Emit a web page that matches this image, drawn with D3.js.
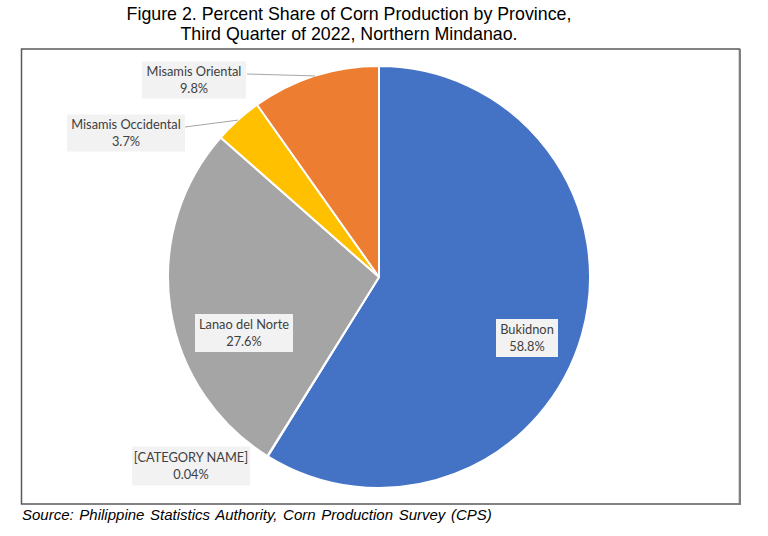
<!DOCTYPE html>
<html>
<head>
<meta charset="utf-8">
<script src="https://cdn.jsdelivr.net/npm/d3@7"></script>
<style>
  html, body { margin: 0; padding: 0; background: #fff; }
  svg { display: block; }
</style>
</head>
<body>
<svg id="chart" width="768" height="536"></svg>
<script>
// ---- data ----
const categories = ["Bukidnon", "[CATEGORY NAME]", "Lanao del Norte", "Misamis Occidental", "Misamis Oriental"];
const shares = [58.8, 0.04, 27.6, 3.7, 9.8];
const valueLabels = ["58.8%", "0.04%", "27.6%", "3.7%", "9.8%"];
const colors = ["#4472C4", "#ED7D31", "#A5A5A5", "#FFC000", "#ED7D31"];
const titleLines = ["Figure 2. Percent Share of Corn Production by Province,", "Third Quarter of 2022, Northern Mindanao."];
const sourceText = "Source: Philippine Statistics Authority, Corn Production Survey (CPS)";

// ---- layout (label box centers, sizes, leader flags) ----
const labelLayout = {
  "Bukidnon":            { cx: 527, cy: 338, w: 62,  h: 38, leader: false },
  "[CATEGORY NAME]":     { cx: 191, cy: 466, w: 118, h: 39, leader: false },
  "Lanao del Norte":     { cx: 244, cy: 333, w: 98,  h: 38, leader: false },
  "Misamis Occidental":  { cx: 126, cy: 133, w: 118, h: 37, leader: true, lx: 185, ly: 127 },
  "Misamis Oriental":    { cx: 194, cy: 80,  w: 104, h: 37, leader: true, lx: 247, ly: 74 }
};

const svg = d3.select("#chart");
const cx = 379, cy = 277, R = 211;

// title
svg.append("g").selectAll("text").data(titleLines).join("text")
  .attr("x", 349).attr("y", (d, i) => 20 + i * 20)
  .attr("text-anchor", "middle")
  .attr("font-family", "Liberation Sans, Arial, sans-serif")
  .attr("font-size", 17.8)
  .attr("fill", "#000")
  .text(d => d);

// frame
svg.append("rect")
  .attr("x", 21.5).attr("y", 49).attr("width", 718).attr("height", 455)
  .attr("fill", "#fff").attr("stroke", "#595959").attr("stroke-width", 1.5);
svg.append("line").attr("x1", 740).attr("x2", 740).attr("y1", 49).attr("y2", 505)
  .attr("stroke", "#7f7f7f").attr("stroke-width", 2);

// pie
const pie = d3.pie().sort(null).value(d => d.v);
const data = categories.map((c, i) => ({ name: c, v: shares[i], label: valueLabels[i], color: colors[i] }));
const arcs = pie(data);
const arc = d3.arc().innerRadius(0).outerRadius(R);
const arcEdge = d3.arc().innerRadius(R).outerRadius(R);

const g = svg.append("g").attr("transform", `translate(${cx},${cy})`);
g.selectAll("path").data(arcs).join("path")
  .attr("d", arc)
  .attr("fill", d => d.data.color)
  .attr("stroke", "#fff")
  .attr("stroke-width", 2)
  .attr("stroke-linejoin", "round");

// leader lines
arcs.forEach(a => {
  const L = labelLayout[a.data.name];
  if (!L.leader) return;
  const p = arcEdge.centroid(a);
  svg.append("line")
    .attr("x1", L.lx).attr("y1", L.ly)
    .attr("x2", cx + p[0]).attr("y2", cy + p[1])
    .attr("stroke", "#A6A6A6").attr("stroke-width", 1);
});

// labels
const lg = svg.append("g");
arcs.forEach(a => {
  const L = labelLayout[a.data.name];
  const grp = lg.append("g");
  grp.append("rect")
    .attr("x", L.cx - L.w / 2).attr("y", L.cy - L.h / 2)
    .attr("width", L.w).attr("height", L.h)
    .attr("fill", "#F2F2F2");
  grp.append("text")
    .attr("x", L.cx).attr("y", L.cy - 4)
    .attr("text-anchor", "middle")
    .attr("font-family", "Lato, 'Open Sans', sans-serif")
    .attr("font-size", 12.8)
    .attr("fill", "#404040")
    .text(a.data.name);
  grp.append("text")
    .attr("x", L.cx).attr("y", L.cy + 13)
    .attr("text-anchor", "middle")
    .attr("font-family", "Lato, 'Open Sans', sans-serif")
    .attr("font-size", 12.8)
    .attr("fill", "#404040")
    .text(a.data.label);
});

// source
svg.append("text")
  .attr("x", 22).attr("y", 520)
  .attr("font-family", "Liberation Sans, Arial, sans-serif")
  .attr("font-style", "italic")
  .attr("font-size", 15)
  .attr("word-spacing", 1.5)
  .attr("fill", "#000")
  .text(sourceText);
</script>
</body>
</html>
